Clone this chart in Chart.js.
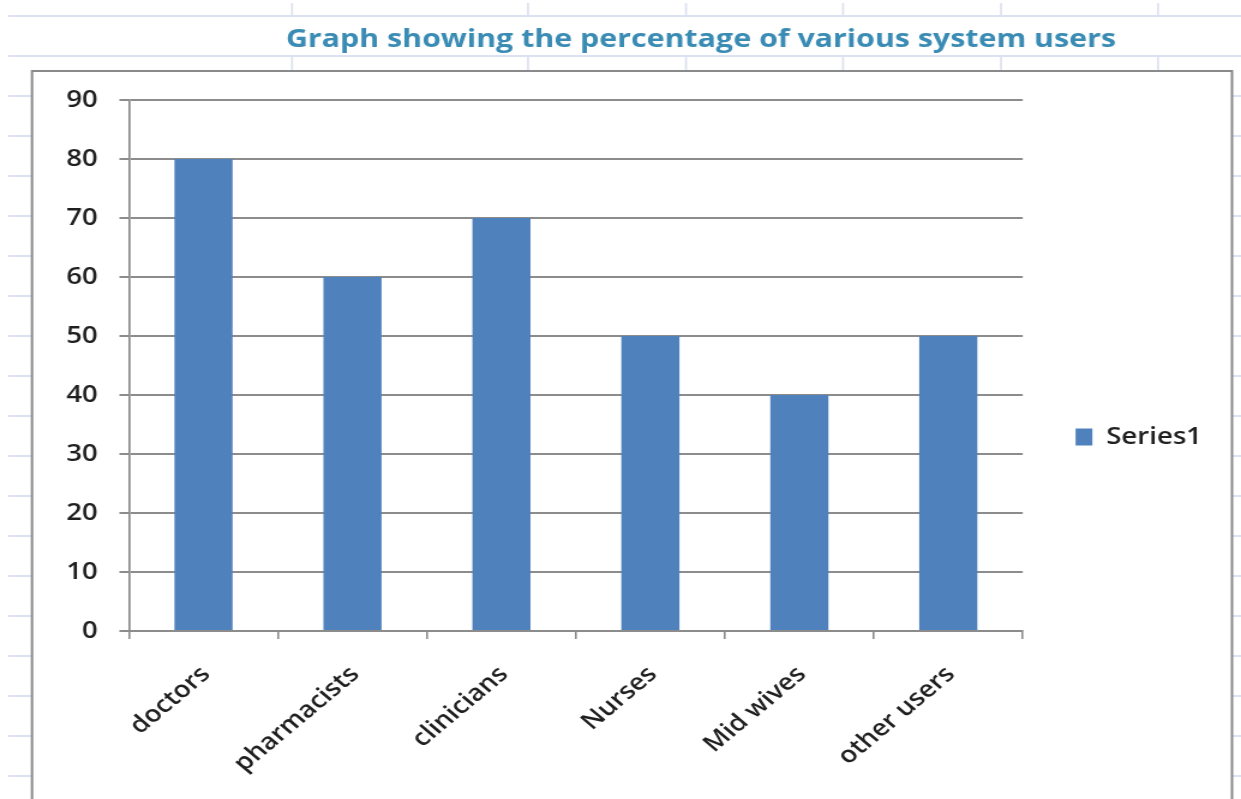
<!DOCTYPE html>
<html>
<head>
<meta charset="utf-8">
<script src="https://cdn.jsdelivr.net/npm/chart.js@4.4.0/dist/chart.umd.min.js"></script>
<style>
  html, body { margin: 0; padding: 0; background: #fff; overflow: hidden; }
</style>
</head>
<body>
<!-- the reference screenshot is stretched sideways, so the canvas is drawn narrower and scaled up -->
<canvas id="usersChart" width="1034" height="799" style="display:block;width:1241px;height:799px"></canvas>
<script>
const categories = ['doctors', 'pharmacists', 'clinicians', 'Nurses', 'Mid wives', 'other users'];
const percentages = [80, 60, 70, 50, 40, 50];
const seriesName = 'Series1';
const yTickValues = [0, 10, 20, 30, 40, 50, 60, 70, 80, 90];
const titleText = 'Graph showing the percentage of various system users';

const canvas = document.getElementById('usersChart');
const SX = 1241 / canvas.width;
const ix = x => x / SX;

Chart.defaults.font.family = "'Open Sans', sans-serif";

// Spreadsheet cells behind the chart object + the chart's frame
const sheetBackdrop = {
    id: 'sheetBackdrop',
    beforeDraw(chart) {
        const ctx = chart.ctx;
        const line = (x1, y1, x2, y2) => {
            ctx.beginPath();
            ctx.moveTo(x1, y1);
            ctx.lineTo(x2, y2);
            ctx.stroke();
        };
        ctx.save();
        ctx.fillStyle = '#fff';
        ctx.fillRect(0, 0, chart.width, chart.height);

        ctx.strokeStyle = '#dce2ef';
        ctx.lineWidth = 2;
        for (let y = 16; y < chart.height; y += 40) {
            line(ix(8), y, chart.width, y);
        }
        ctx.lineWidth = 1.7;
        [292, 528, 686, 843, 1001, 1158].forEach(x => {
            line(ix(x), 3, ix(x), 16);
            line(ix(x), 56, ix(x), 71);
        });

        ctx.fillStyle = '#fff';
        ctx.fillRect(ix(32), 71, ix(1232) - ix(32), chart.height);
        ctx.strokeStyle = '#8a8a8a';
        ctx.lineWidth = 2;
        ctx.strokeRect(ix(32), 71, ix(1232) - ix(32), chart.height);
        ctx.restore();
    }
};

const tickFont = { family: "'Open Sans', sans-serif", size: 23, weight: '600' };
const axisGrey = '#8c8c8c';
const textDark = '#1f1f1f';

new Chart(canvas, {
    type: 'bar',
    data: {
        labels: categories,
        datasets: [{
            label: seriesName,
            data: percentages,
            backgroundColor: '#4f81bd',
            borderWidth: 0,
            barPercentage: 0.39,
            categoryPercentage: 1
        }]
    },
    options: {
        responsive: false,
        animation: false,
        devicePixelRatio: 1,
        layout: { padding: { left: 0, right: -134, top: 14, bottom: -61 } },
        plugins: {
            title: {
                display: true,
                text: titleText,
                color: '#3a8cb4',
                font: { family: "'Open Sans', sans-serif", size: 25.3, weight: 'bold' },
                padding: { top: 10.6, bottom: 45 }
            },
            legend: {
                position: 'right',
                labels: {
                    boxWidth: 14,
                    boxHeight: 17,
                    padding: 44,
                    color: textDark,
                    font: tickFont
                }
            },
            tooltip: { enabled: false }
        },
        scales: {
            x: {
                grid: { drawOnChartArea: false, color: axisGrey, lineWidth: 1.6, tickLength: 8, offset: true },
                border: { color: axisGrey, width: 2 },
                ticks: { minRotation: 45, maxRotation: 45, padding: 22, labelOffset: 2, color: textDark, font: tickFont },
                afterFit: s => { s.height = 229; }
            },
            y: {
                min: yTickValues[0],
                max: yTickValues[yTickValues.length - 1],
                grid: { color: axisGrey, lineWidth: 2, tickLength: 8 },
                border: { color: axisGrey, width: 1.7 },
                ticks: { padding: 18, color: textDark, font: tickFont },
                afterBuildTicks: s => { s.ticks = yTickValues.map(v => ({ value: v })); },
                afterFit: s => { s.width = 107.5; }
            },
            // empty axis that keeps the legend away from the far right
            spacer: {
                type: 'linear',
                position: 'right',
                weight: 2000,
                ticks: { display: false },
                grid: { display: false },
                border: { display: false },
                afterFit: s => { s.width = 156.5; }
            }
        }
    },
    plugins: [sheetBackdrop]
});
</script>
</body>
</html>
